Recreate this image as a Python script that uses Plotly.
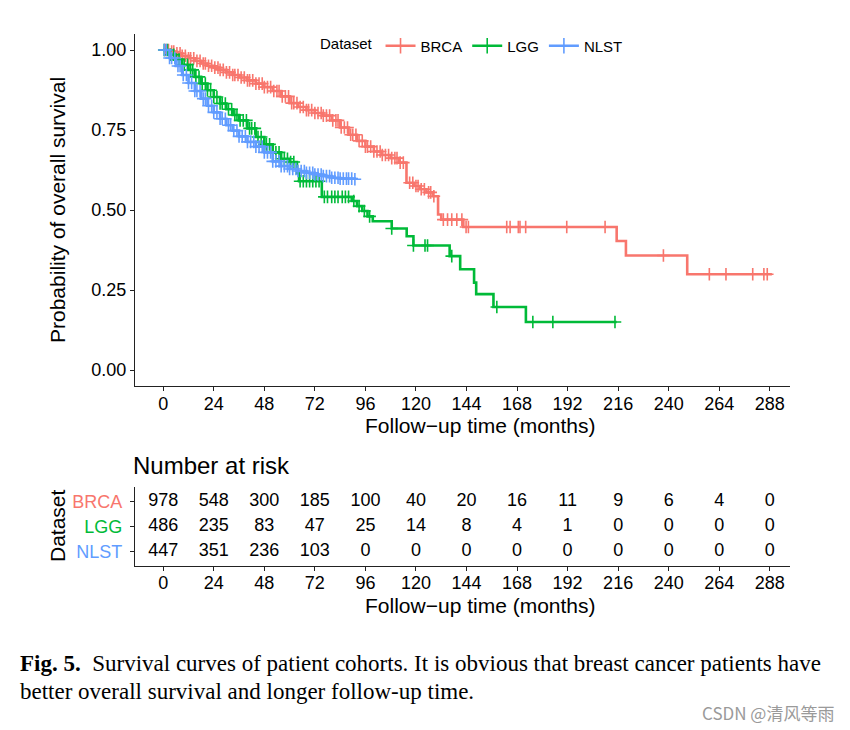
import bisect
import plotly.graph_objects as go

# ---------------- data ----------------
month_ticks = [0, 24, 48, 72, 96, 120, 144, 168, 192, 216, 240, 264, 288]
groups = ["BRCA", "LGG", "NLST"]
colors = {"BRCA": "#F8766D", "LGG": "#00BA38", "NLST": "#619CFF"}

brca_time = [0, 3, 6, 9, 12, 15, 18, 21, 24, 27, 30, 33, 36, 40, 44, 48, 52, 56, 60, 64, 68, 72,
             76, 80, 84, 88, 92, 96, 100, 104, 108, 112, 115.5, 119, 122, 125, 128, 130.5, 132,
             142.5, 215.3, 219.7, 248.8, 289]
brca_surv = [1.0, 0.995, 0.99, 0.982, 0.974, 0.966, 0.958, 0.951, 0.945, 0.938, 0.93, 0.922, 0.914,
             0.905, 0.895, 0.884, 0.872, 0.855, 0.834, 0.822, 0.812, 0.803, 0.795, 0.78, 0.758,
             0.735, 0.716, 0.698, 0.683, 0.672, 0.662, 0.648, 0.585, 0.575, 0.565, 0.555, 0.543,
             0.486, 0.47, 0.447, 0.403, 0.358, 0.299, 0.299]
brca_censor = [1, 2.5, 4, 5, 6.5, 8, 9, 10.5, 12, 13, 14.5, 16, 17.5, 19, 20, 21.5, 23, 24.5, 26, 27,
               28.5, 30, 31.5, 33, 34, 35.5, 37, 38.5, 40, 41, 42.5, 44, 45.5, 47, 48, 49.5, 51,
               52.5, 54, 55, 56.5, 58, 59.5, 61, 62, 63.5, 65, 66.5, 68, 69, 70.5, 72, 73.5, 75,
               76, 77.5, 79, 80.5, 82, 83, 84.5, 86, 87.5, 89, 90, 91.5, 93, 94.5, 96, 97, 98.5,
               100, 101.5, 103, 104, 105.5, 107, 108.5, 110, 111, 112.5, 114, 117, 118.5, 120,
               121, 122.5, 124, 126, 127, 128.5, 133, 135, 137, 139.4, 141.8, 143.8, 144.9, 163.1,
               164.7, 168.6, 169.4, 172.1, 191.6, 209.8, 237.5, 259.3, 267.2, 279.9, 285.2, 286.8]

lgg_time = [0, 3, 6, 9, 12, 15, 18, 21, 24, 27, 30, 33, 36, 40, 44, 48, 52, 56, 60, 63.5, 64.5,
            75.3, 89.5, 92, 94.5, 97, 99.5, 108.5, 115.6, 118.8, 136, 141, 147.6, 148.6, 156.8,
            172.2, 215.3]
lgg_surv = [1.0, 0.985, 0.97, 0.954, 0.938, 0.916, 0.895, 0.874, 0.853, 0.833, 0.815, 0.797, 0.78,
            0.755, 0.728, 0.705, 0.68, 0.66, 0.65, 0.615, 0.59, 0.541, 0.528, 0.512, 0.497, 0.48,
            0.465, 0.442, 0.418, 0.389, 0.356, 0.315, 0.273, 0.237, 0.197, 0.15, 0.15]
lgg_censor = [0.5, 2, 3.5, 5, 6, 7.5, 9, 10, 11.5, 13, 14, 15.5, 17, 18.5, 20, 21, 22.5, 24, 25.5,
              27, 28, 29.5, 31, 32.5, 34, 35, 36.5, 38, 39.5, 41, 42, 43.5, 45, 46.5, 48, 49, 50.5,
              52, 53.5, 55, 56, 57.5, 59, 60.5, 62, 65, 66.5, 68, 69.5, 71, 72.5, 74, 76.5, 78,
              80, 81.5, 83, 85, 86.5, 88, 90.5, 93, 95.5, 98, 108.5, 118.8, 124.3, 125.5, 137,
              158.4, 175.5, 185, 214.5]

nlst_time = [0, 3, 6, 9, 12, 15, 18, 21, 24, 27, 30, 33, 36, 40, 44, 48, 52, 56, 60, 64, 68, 72,
             76, 80, 84, 91]
nlst_surv = [1.0, 0.975, 0.95, 0.922, 0.897, 0.872, 0.848, 0.826, 0.805, 0.785, 0.765, 0.748, 0.73,
             0.713, 0.698, 0.68, 0.652, 0.637, 0.628, 0.622, 0.616, 0.611, 0.606, 0.601, 0.598,
             0.596]
nlst_censor = [0.5, 1.5, 3, 4, 5.5, 7, 8, 9.5, 11, 12, 13.5, 15, 16, 17.5, 19, 20, 21.5, 23, 24,
               25.5, 27, 28, 29.5, 31, 32, 33.5, 35, 36, 37.5, 39, 40, 41.5, 43, 44, 45.5, 47, 48,
               49.5, 51, 52, 53.5, 55, 56, 57.5, 59, 60, 61.5, 63, 64, 65.5, 67, 68, 69.5, 71, 72,
               73.5, 75, 76, 77.5, 79, 80, 81.5, 83, 84, 85.5, 87, 88, 89.5, 91]

risk_brca = [978, 548, 300, 185, 100, 40, 20, 16, 11, 9, 6, 4, 0]
risk_lgg = [486, 235, 83, 47, 25, 14, 8, 4, 1, 0, 0, 0, 0]
risk_nlst = [447, 351, 236, 103, 0, 0, 0, 0, 0, 0, 0, 0, 0]

curves = {
    "BRCA": (brca_time, brca_surv, brca_censor),
    "LGG": (lgg_time, lgg_surv, lgg_censor),
    "NLST": (nlst_time, nlst_surv, nlst_censor),
}
risk = {"BRCA": risk_brca, "LGG": risk_lgg, "NLST": risk_nlst}
row_pos = {"BRCA": 3, "LGG": 2, "NLST": 1}

# ---------------- figure ----------------
W, H = 850, 730
FONT = "Liberation Sans"


def px_x(p):
    return p / W


def px_y(p):
    return 1 - p / H


fig = go.Figure()

for g in groups:
    t, s, cens = curves[g]
    c = colors[g]
    fig.add_trace(go.Scatter(x=t, y=s, mode="lines", line=dict(color=c, width=2.6, shape="hv"),
                             showlegend=False, hoverinfo="skip", xaxis="x", yaxis="y"))
    cy = [s[bisect.bisect_right(t, v) - 1] for v in cens]
    fig.add_trace(go.Scatter(x=cens, y=cy, mode="markers",
                             marker=dict(symbol="cross-thin", size=9, color=c,
                                         line=dict(width=1.6, color=c)),
                             showlegend=False, hoverinfo="skip", xaxis="x", yaxis="y"))

for g in groups:
    c = colors[g]
    fig.add_trace(go.Scatter(x=[None], y=[None], mode="lines+markers", name=g,
                             line=dict(color=c, width=2.6),
                             marker=dict(symbol="cross-thin", size=11, color=c,
                                         line=dict(width=1.6, color=c)),
                             xaxis="x", yaxis="y"))

# risk table numbers
for g in groups:
    fig.add_trace(go.Scatter(x=month_ticks, y=[row_pos[g]] * len(month_ticks),
                             text=[str(v) for v in risk[g]], mode="text",
                             textfont=dict(family=FONT, size=18, color="black"),
                             textposition="middle center", showlegend=False,
                             hoverinfo="skip", xaxis="x2", yaxis="y2"))

xrange = [-13.4, 297.6]
axis_common = dict(showline=True, linecolor="#222", linewidth=1.1, ticks="outside", ticklen=4,
                   tickcolor="#222", tickwidth=1.1, showgrid=False, zeroline=False,
                   tickfont=dict(family=FONT, size=18, color="black"))

fig.update_layout(
    width=W, height=H,
    margin=dict(l=0, r=0, t=0, b=0),
    paper_bgcolor="white", plot_bgcolor="white",
    xaxis=dict(domain=[px_x(135), px_x(790)], range=xrange, tickvals=month_ticks,
               anchor="y", ticklabelstandoff=-3, **axis_common),
    yaxis=dict(domain=[px_y(386), px_y(34)], range=[-0.05, 1.05],
               tickvals=[0, 0.25, 0.5, 0.75, 1.0], ticktext=["0.00", "0.25", "0.50", "0.75", "1.00"],
               anchor="x", **axis_common),
    xaxis2=dict(domain=[px_x(135), px_x(790)], range=xrange, tickvals=month_ticks,
                anchor="y2", ticklabelstandoff=-4, **axis_common),
    yaxis2=dict(domain=[px_y(566), px_y(487)], range=[0.4, 3.6], tickvals=[3, 2, 1],
                ticktext=[f"<span style='color:{colors[g]}'>{g}</span>" for g in groups],
                anchor="x2", ticklabelstandoff=4, **axis_common),
    legend=dict(orientation="h", x=px_x(318), y=px_y(46), xanchor="left", yanchor="middle",
                title=dict(text="Dataset", side="left", font=dict(family=FONT, size=15, color="black")),
                font=dict(family=FONT, size=15, color="black"), bgcolor="rgba(0,0,0,0)",
                itemwidth=30, tracegroupgap=0),
    showlegend=True,
)

annos = [
    dict(text="Probability of overall survival", x=px_x(57), y=px_y(210), textangle=-90,
         font=dict(family=FONT, size=21, color="black")),
    dict(text="Follow\u2212up time (months)", x=px_x(480), y=px_y(425),
         font=dict(family=FONT, size=21, color="black")),
    dict(text="Number at risk", x=px_x(131), y=px_y(465), xanchor="left",
         font=dict(family=FONT, size=24, color="black")),
    dict(text="Dataset", x=px_x(57), y=px_y(526), textangle=-90,
         font=dict(family=FONT, size=21, color="black")),
    dict(text="Follow\u2212up time (months)", x=px_x(480), y=px_y(605),
         font=dict(family=FONT, size=21, color="black")),
    dict(text="<b>Fig. 5.</b>  Survival curves of patient cohorts. It is obvious that breast cancer patients have",
         x=px_x(18), y=px_y(663), xanchor="left",
         font=dict(family="Liberation Serif", size=23, color="black")),
    dict(text="better overall survival and longer follow-up time.",
         x=px_x(18), y=px_y(691), xanchor="left",
         font=dict(family="Liberation Serif", size=23, color="black")),
    dict(text="CSDN @清风等雨", x=px_x(836), y=px_y(712), xanchor="right",
         font=dict(family="Noto Sans CJK SC", size=17, color="#9a9a9a")),
]
for a in annos:
    a.update(xref="paper", yref="paper", showarrow=False)
    a.setdefault("xanchor", "center")
    a.setdefault("yanchor", "middle")
fig.update_layout(annotations=annos)

fig.write_html("out.html")
